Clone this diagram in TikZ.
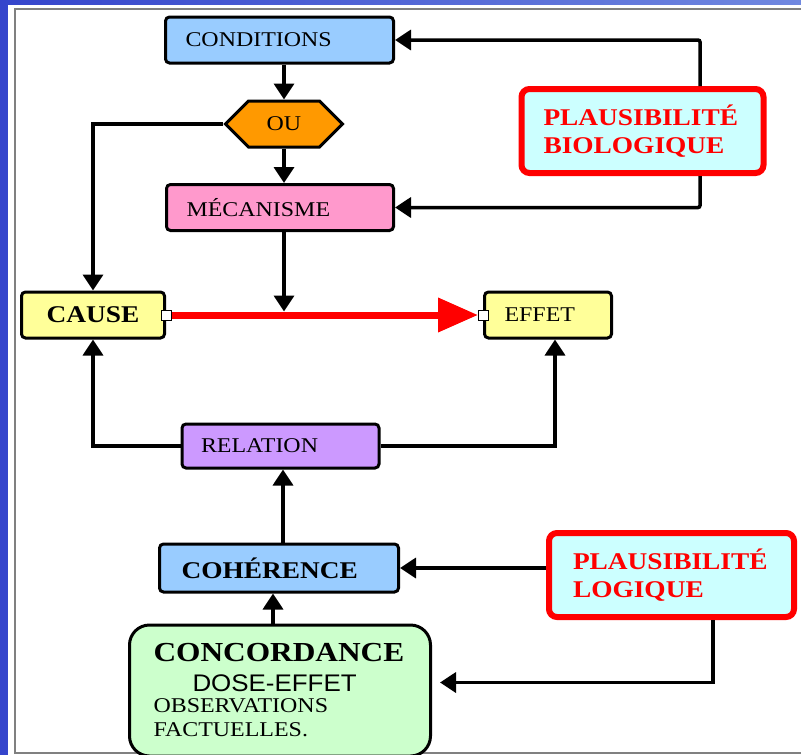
\documentclass[tikz,border=0pt]{standalone}
\usepackage{fontspec}
\setmainfont{Liberation Serif}[FakeStretch=1.14]
\setsansfont{Liberation Sans}[FakeStretch=1.08]
\usepackage{xcolor}
\usetikzlibrary{shapes.symbols, arrows.meta, calc}
\definecolor{condblue}{HTML}{99CCFF}
\definecolor{ouorange}{HTML}{FF9900}
\definecolor{mecpink}{HTML}{FF99CC}
\definecolor{causeyellow}{HTML}{FFFF99}
\definecolor{relpurple}{HTML}{CC99FF}
\definecolor{concgreen}{HTML}{CCFFCC}
\definecolor{plcyan}{HTML}{CCFFFF}
\definecolor{bgdark}{HTML}{3545CC}
\definecolor{bglight}{HTML}{7088E0}
\newcommand{\boxfont}{\fontsize{21}{25}\selectfont}
\newcommand{\boldfont}{\fontsize{24}{28}\selectfont\bfseries}
\tikzstyle{box} = [draw, line width=3pt, rounded corners=4pt, minimum height=46pt, inner xsep=20pt, inner ysep=0pt, font=\boxfont, align=left]
\tikzstyle{plbox} = [draw=red, line width=6pt, rounded corners=8pt, fill=plcyan, text=red, minimum height=84pt, inner xsep=22pt, font=\boldfont, align=left]
\tikzstyle{arrow} = [line width=3.5pt, -{Triangle[length=16pt,width=20pt]}]

\begin{document}
\begin{tikzpicture}[x=1pt, y=-1pt]
    \useasboundingbox (0,0) rectangle (801,755);
    % Background frame
    \shade[left color=bgdark, right color=bglight] (0,0) rectangle (801,755);
    \fill[white] (8,5) rectangle (801,755);
    \draw[gray, line width=1.5pt] (801,9) -- (15,9) -- (15,753) -- (801,753);

    % Upper chain
    \node[box, fill=condblue, text width=188pt] (cond) at (279.5, 40) {CONDITIONS};
    \node[signal, signal to=west and east, signal pointer angle=90, draw, line width=3pt, fill=ouorange, minimum width=117pt, minimum height=46pt, inner sep=0pt, font=\boxfont] (ou) at (284, 124) {OU};
    \node[box, fill=mecpink, text width=187pt] (mec) at (280, 207.5) {MÉCANISME};

    % Cause and effect
    \node[box, fill=causeyellow, text width=103pt, align=center, font=\boldfont] (cause) at (93, 315) {CAUSE};
    \node[box, fill=causeyellow, text width=87pt] (effet) at (548, 315) {EFFET};
    \node[box, fill=relpurple, text width=159pt, minimum height=44pt, inner xsep=19pt] (rel) at (280.5, 446) {RELATION};

    % Lower chain
    \node[box, fill=condblue, text width=195pt, minimum height=48pt, inner xsep=22pt, font=\boldfont] (coh) at (279, 568) {COHÉRENCE};
    \node[box, fill=concgreen, text width=253pt, minimum height=131pt, inner xsep=24pt, rounded corners=20pt, font=\fontsize{21}{24}\selectfont] (conc) at (280, 690.5)
        {{\fontsize{27.5}{30}\selectfont\bfseries CONCORDANCE}\\[6pt]
         \hspace*{39pt}{\sffamily\fontsize{24}{28}\selectfont DOSE-EFFET}\\[-3pt]
         OBSERVATIONS\\
         FACTUELLES.};

    % Plausibility boxes
    \node[plbox, text width=198pt] (bio) at (642.5, 131) {PLAUSIBILITÉ\\BIOLOGIQUE};
    \node[plbox, text width=197pt, inner xsep=24pt] (logi) at (671.5, 575) {PLAUSIBILITÉ\\LOGIQUE};

    % Main causal arrow
    \draw[red, line width=7pt, -{Triangle[length=40pt,width=33pt]}] (cause.east) -- ([xshift=-5pt]effet.west);
    \node[draw, fill=white, line width=1pt, minimum size=10pt, inner sep=0pt] (cport) at (cause.east) {};
    \node[draw, fill=white, line width=1pt, minimum size=10pt, inner sep=0pt] (eport) at (effet.west) {};

    % Connectors
    \draw[arrow] (cond.south -| ou.north) -- (ou.north);
    \draw[arrow] (ou.south) -- (ou.south |- mec.north);
    \draw[arrow] (ou.west) -| (cause.north);
    \draw[arrow, shorten >=3.5pt] ([xshift=4pt]mec.south) -- ([xshift=4pt]mec.south |- cause.east);
    \draw[arrow, rounded corners=2pt] ([xshift=57.5pt]bio.north) |- (cond.east);
    \draw[arrow, rounded corners=2pt] ([xshift=57.5pt]bio.south) |- (mec.east);
    \draw[arrow] (rel.west) -| (cause.south);
    \draw[arrow] (rel.east) -| ([xshift=7pt]effet.south);
    \draw[arrow] ([xshift=4pt]coh.north) -- ([xshift=4pt]coh.north |- rel.south);
    \draw[arrow] ([xshift=-7pt]conc.north) -- ([xshift=-7pt]conc.north |- coh.south);
    \draw[arrow] (logi.west |- coh.east) -- (coh.east);
    \draw[arrow, shorten >=8pt] ([xshift=41.5pt]logi.south) |- ([yshift=8pt]conc.east);
\end{tikzpicture}
\end{document}
